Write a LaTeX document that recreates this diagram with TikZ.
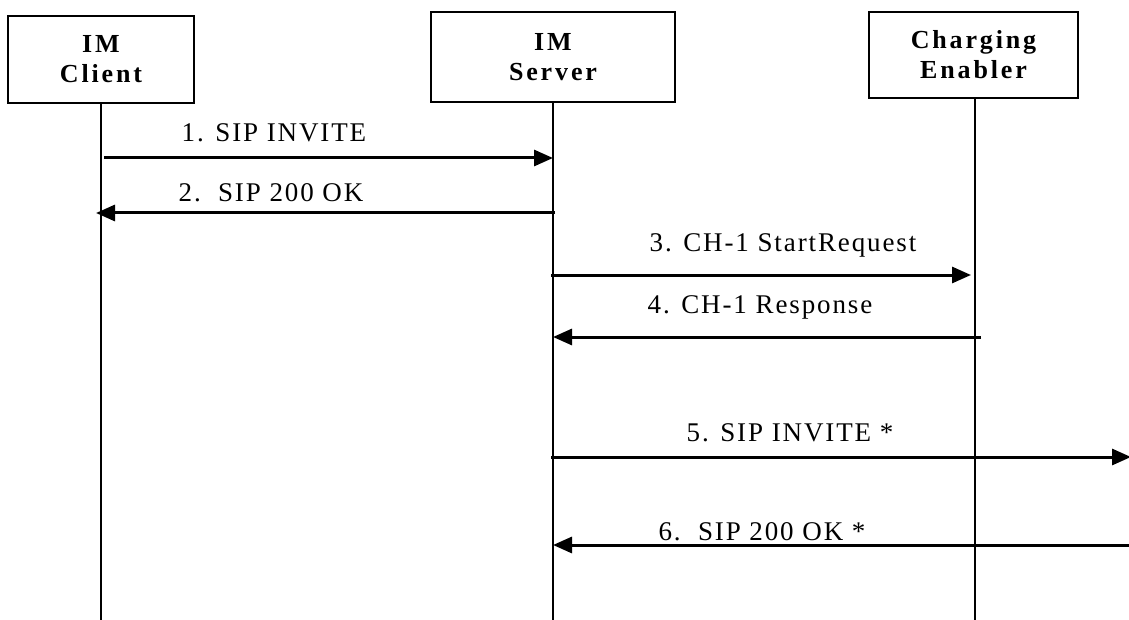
\documentclass[tikz,border=0pt]{standalone}
\usepackage{fontspec}
\setmainfont{Liberation Serif}
\newfontfamily\msgfont[LetterSpace=7]{Liberation Serif}
\newfontfamily\boxfont[LetterSpace=11]{Liberation Serif}
\usetikzlibrary{arrows.meta}
\begin{document}
\begin{tikzpicture}[x=1pt,y=-1pt,
    actor/.style={draw,line width=1.8pt,align=center,inner sep=0pt,
      font=\boxfont\bfseries\fontsize{26}{30}\selectfont},
    life/.style={line width=1.5pt},
    msg/.style={line width=3pt,-{Triangle[length=19pt,width=16pt]}},
    lbl/.style={anchor=base,inner sep=0pt,font=\msgfont\fontsize{27}{30}\selectfont}]
      \useasboundingbox (0,0) rectangle (1129,620);
      \node[actor,minimum width=186pt,minimum height=87pt] (client) at (101,59.5) {IM\\Client};
      \node[actor,minimum width=244pt,minimum height=90pt] (server) at (553,57) {IM\\Server};
      \node[actor,minimum width=209pt,minimum height=86pt] (charger) at (973.5,55) {Charging\\Enabler};
      \coordinate (clientend) at (101,620);
      \coordinate (serverend) at (553,620);
      \coordinate (chargerend) at (975,620);
      \draw[life] (client.south) -- (clientend);
      \draw[life] (server.south) -- (serverend);
      \draw[life] (charger.south-|chargerend) -- (chargerend);
      \coordinate (c1) at (104,158); \coordinate (s1) at (553,158);
      \coordinate (s2) at (555,213); \coordinate (c2) at (96,213);
      \coordinate (s3) at (551,275); \coordinate (e3) at (971,275);
      \coordinate (e4) at (981,337); \coordinate (s4) at (553,337);
      \coordinate (s5) at (551,457); \coordinate (out5) at (1131,457);
      \coordinate (out6) at (1131,545); \coordinate (s6) at (553,545);
      \draw[msg] (c1) -- (s1);
      \draw[msg] (s2) -- (c2);
      \draw[msg] (s3) -- (e3);
      \draw[msg] (e4) -- (s4);
      \draw[msg] (s5) -- (out5);
      \draw[msg] (out6) -- (s6);
      \node[lbl] (m1) at (274,142) {1. SIP INVITE};
      \node[lbl] (m2) at (271,202) {2.\ \ SIP 200 OK};
      \node[lbl] (m3) at (783,252) {3. CH-1 StartRequest};
      \node[lbl] (m4) at (760,313) {4. CH-1 Response};
      \node[lbl] (m5) at (790,441) {5. SIP INVITE *};
      \node[lbl] (m6) at (762,540) {6.\ \ SIP 200 OK *};
\end{tikzpicture}
\end{document}
